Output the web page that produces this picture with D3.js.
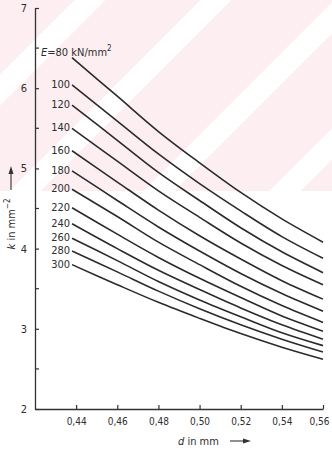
<!DOCTYPE html>
<html>
<head>
<meta charset="utf-8">
<script src="https://cdn.jsdelivr.net/npm/d3@7"></script>
<style>
  body { margin: 0; background: #fff; }
  text { font-family: "DejaVu Sans Condensed", "DejaVu Sans", sans-serif; fill: #2e2e2e; }
</style>
</head>
<body>
<div id="chart"></div>
<script>

    var dValues = [0.438, 0.46, 0.48, 0.50, 0.52, 0.54, 0.56];

    // modulus E (kN/mm2) of each curve
    var eValues = [80, 100, 120, 140, 160, 180, 200, 220, 240, 260, 280, 300];

    // k (mm^-2), one row per curve, matching dValues
    var k80  = [6.38, 5.90, 5.46, 5.07, 4.70, 4.37, 4.08];
    var k100 = [6.04, 5.59, 5.18, 4.81, 4.47, 4.15, 3.88];
    var k120 = [5.79, 5.35, 4.95, 4.60, 4.26, 3.96, 3.70];
    var k140 = [5.50, 5.09, 4.72, 4.39, 4.07, 3.79, 3.55];
    var k160 = [5.22, 4.83, 4.48, 4.16, 3.87, 3.60, 3.37];
    var k180 = [4.97, 4.60, 4.27, 3.97, 3.69, 3.44, 3.22];
    var k200 = [4.74, 4.40, 4.08, 3.80, 3.53, 3.29, 3.08];
    var k220 = [4.51, 4.18, 3.89, 3.63, 3.39, 3.16, 2.97];
    var k240 = [4.31, 4.00, 3.73, 3.49, 3.26, 3.05, 2.87];
    var k260 = [4.13, 3.85, 3.59, 3.36, 3.15, 2.95, 2.79];
    var k280 = [3.97, 3.71, 3.47, 3.25, 3.05, 2.87, 2.71];
    var k300 = [3.80, 3.55, 3.33, 3.13, 2.94, 2.77, 2.62];

    var kRows = [k80, k100, k120, k140, k160, k180, k200, k220, k240, k260, k280, k300];

    var xTicks = [0.44, 0.46, 0.48, 0.50, 0.52, 0.54, 0.56];
    var yTicks = [2, 3, 4, 5, 6, 7];
    var yMinor = [2.5, 3.5, 4.5, 5.5, 6.5];

    //=========================================================================
    // Set Dimensions
    //=========================================================================
    var width = 332,
        height = 450;

    var svg = d3.select("#chart")
      .append("svg")
      .attr("width", width)
      .attr("height", height);

    var x = d3.scaleLinear().domain([0.42, 0.56]).range([35, 323]);
    var y = d3.scaleLinear().domain([2, 7]).range([409, 8]);

    //=========================================================================
    // Scan watermark (pink band with white diagonal stripes)
    //=========================================================================
    var defs = svg.append("defs");
    defs.append("clipPath").attr("id", "band")
      .append("rect")
      .attr("x", 0).attr("y", 0)
      .attr("width", width).attr("height", 191);

    var band = svg.append("g").attr("clip-path", "url(#band)");
    band.append("rect")
      .attr("width", width).attr("height", 191)
      .attr("fill", "#fdeef1");
    band.selectAll("line.stripe")
      .data([90, 216, 350, 476])
      .enter()
      .append("line")
      .attr("class", "stripe")
      .attr("x1", function(s){ return s + 60; })
      .attr("y1", -60)
      .attr("x2", function(s){ return s - 260; })
      .attr("y2", 260)
      .attr("stroke", "#fff")
      .attr("stroke-width", 22);

    //=========================================================================
    // Axes
    //=========================================================================
    var axisColor = "#333";

    var gx = svg.append("g")
      .attr("transform", "translate(0," + y(2) + ")")
      .call(d3.axisBottom(x)
        .tickValues(xTicks)
        .tickSizeInner(-4)
        .tickSizeOuter(0)
        .tickPadding(8)
        .tickFormat(function(d){ return d3.format(".2f")(d).replace(".", ","); }));
    gx.select(".domain").attr("stroke", axisColor).attr("stroke-width", 1.3);
    gx.selectAll(".tick line").attr("stroke", axisColor).attr("stroke-width", 1.2);
    gx.selectAll(".tick text")
      .attr("font-size", 11)
      .attr("fill", "#2e2e2e")
      .attr("font-family", "DejaVu Sans Condensed")
      .attr("textLength", 20)
      .attr("lengthAdjust", "spacingAndGlyphs")
      .attr("dx", function(d, i){ return i == xTicks.length - 1 ? -4 : 0; });

    var gy = svg.append("g")
      .attr("transform", "translate(" + x(0.42) + ",0)")
      .call(d3.axisLeft(y)
        .tickValues(yTicks)
        .tickSizeInner(-4)
        .tickSizeOuter(0)
        .tickPadding(8)
        .tickFormat(d3.format("d")));
    gy.select(".domain").attr("stroke", axisColor).attr("stroke-width", 1.3);
    gy.selectAll(".tick line").attr("stroke", axisColor).attr("stroke-width", 1.2);
    gy.selectAll(".tick text").attr("font-size", 11).attr("fill", "#2e2e2e")
      .attr("font-family", "DejaVu Sans Condensed");

    svg.append("g")
      .selectAll("line")
      .data(yMinor)
      .enter()
      .append("line")
      .attr("x1", x(0.42))
      .attr("x2", x(0.42) + 4)
      .attr("y1", function(d){ return y(d); })
      .attr("y2", function(d){ return y(d); })
      .attr("stroke", axisColor)
      .attr("stroke-width", 1.2);

    //=========================================================================
    // Curves
    //=========================================================================
    var line = d3.line()
      .x(function(d){ return x(d[0]); })
      .y(function(d){ return y(d[1]); })
      .curve(d3.curveCatmullRom);

    var series = eValues.map(function(e, i){
      return { E: e, points: dValues.map(function(d, j){ return [d, kRows[i][j]]; }) };
    });

    svg.append("g")
      .selectAll("path")
      .data(series)
      .enter()
      .append("path")
      .attr("d", function(s){ return line(s.points); })
      .attr("fill", "none")
      .attr("stroke", "#2b2b2b")
      .attr("stroke-width", 1.6);

    // curve labels
    svg.append("g")
      .selectAll("text")
      .data(series.slice(1))
      .enter()
      .append("text")
      .attr("x", function(s){ return x(s.points[0][0]) - 2; })
      .attr("y", function(s){ return y(s.points[0][1]) + 3; })
      .attr("text-anchor", "end")
      .attr("font-size", 11)
      .text(function(s){ return s.E; });

    var first = series[0].points[0];
    var eLabel = svg.append("text")
      .attr("x", x(first[0]) - 31)
      .attr("y", y(first[1]) - 2)
      .attr("font-size", 11);
    eLabel.append("tspan").attr("font-style", "italic").text("E");
    eLabel.append("tspan").text("=80 kN/mm");
    eLabel.append("tspan").attr("font-size", 8).attr("dy", -5).text("2");

    //=========================================================================
    // Axis titles
    //=========================================================================
    var yTitle = svg.append("text")
      .attr("transform", "translate(15,224) rotate(-90)")
      .attr("text-anchor", "middle")
      .attr("font-size", 11);
    yTitle.append("tspan").attr("font-style", "italic").text("k");
    yTitle.append("tspan").text(" in mm");
    yTitle.append("tspan").attr("font-size", 8).attr("dy", -5).text("−2");

    svg.append("line")
      .attr("x1", 11).attr("x2", 11)
      .attr("y1", 190).attr("y2", 170)
      .attr("stroke", "#333").attr("stroke-width", 1.1);
    svg.append("path")
      .attr("d", "M11,166 L8.5,174 L13.5,174 Z")
      .attr("fill", "#333");

    var xTitle = svg.append("text")
      .attr("x", 178)
      .attr("y", 445)
      .attr("font-size", 11);
    xTitle.append("tspan").attr("font-style", "italic").text("d");
    xTitle.append("tspan").text(" in mm");

    svg.append("line")
      .attr("x1", 230).attr("x2", 246)
      .attr("y1", 441).attr("y2", 441)
      .attr("stroke", "#333").attr("stroke-width", 1.1);
    svg.append("path")
      .attr("d", "M251,441 L243,438.5 L243,443.5 Z")
      .attr("fill", "#333");

</script>
</body>
</html>
